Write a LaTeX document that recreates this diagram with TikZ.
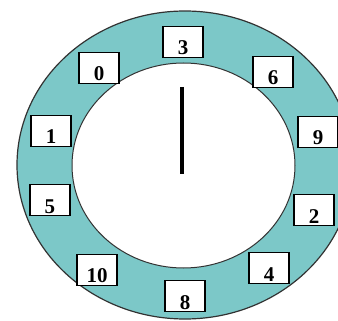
\documentclass[tikz,border=0pt]{standalone}
\usepackage{fontspec}
\setmainfont{Liberation Serif}
\definecolor{ringteal}{RGB}{124,200,200}
\definecolor{edgegray}{RGB}{50,50,50}
\tikzset{
  numbox/.style={draw=black, line width=1.2pt, fill=white, minimum width=40pt, minimum height=31pt, inner sep=0pt,
    text height=26pt, text depth=0pt, font=\fontsize{21}{21}\selectfont\bfseries},
}
\begin{document}
\begin{tikzpicture}[x=1pt,y=-1pt]
\useasboundingbox (0,0) rectangle (338,321);
\clip (0,0) rectangle (338,321);
\fill[white] (0,0) rectangle (338,321);
\draw[edgegray, line width=1.2pt, fill=ringteal] (185,165) ellipse [x radius=168, y radius=154];
\draw[edgegray, line width=1pt, fill=white] (183.5,165.5) ellipse [x radius=111.5, y radius=102.5];
\coordinate (handtop) at (182,87);
\coordinate (handbot) at (182,174);
\draw[line width=4pt] (handtop) -- (handbot);
\node[numbox] (n3) at (183,42) {3};
\node[numbox] (n0) at (99,68) {0};
\node[numbox] (n6) at (273,72) {6};
\node[numbox] (n1) at (51,131) {1};
\node[numbox] (n9) at (318,132) {9};
\node[numbox] (n5) at (50,200) {5};
\node[numbox] (n2) at (314,210) {2};
\node[numbox] (n10) at (97,270) {10};
\node[numbox] (n4) at (269,268) {4};
\node[numbox] (n8) at (185,296) {8};
\end{tikzpicture}
\end{document}
